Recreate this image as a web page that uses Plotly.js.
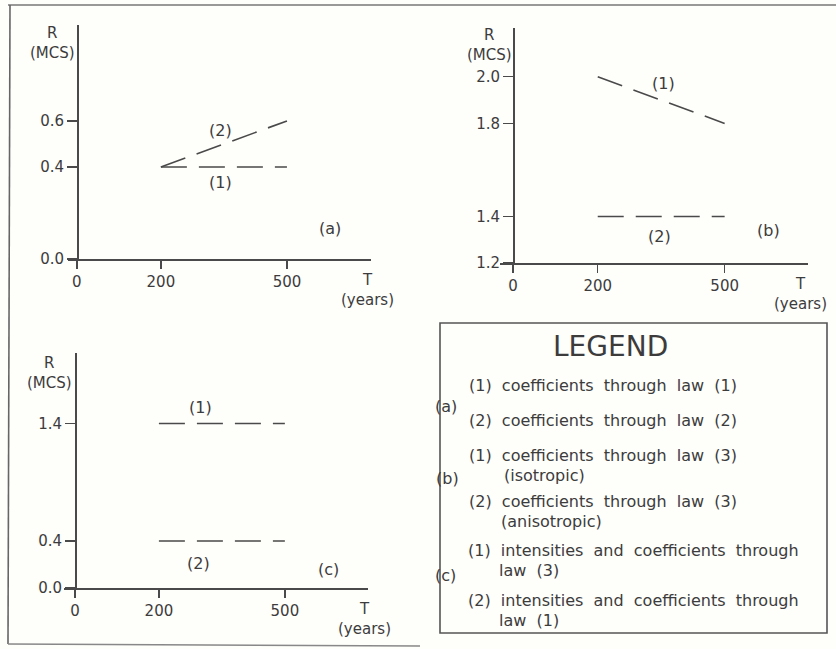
<!DOCTYPE html>
<html>
<head>
<meta charset="utf-8">
<script src="https://cdn.plot.ly/plotly-3.0.1.min.js"></script>
<style>html,body{margin:0;padding:0;background:#fefefb;}#chart{width:836px;height:649px;}</style>
</head>
<body>
<div id="chart"></div>
<script>
// ---- data ----
const T = [200, 500];
const aLaw1 = [0.4, 0.4];
const aLaw2 = [0.4, 0.6];
const bIsotropic = [2.0, 1.8];
const bAnisotropic = [1.4, 1.4];
const cLaw3 = [1.4, 1.4];
const cLaw1 = [0.4, 0.4];
const xTicks = [0, 200, 500];
const aYTicks = [0.0, 0.4, 0.6];
const bYTicks = [1.2, 1.4, 1.8, 2.0];
const cYTicks = [0.0, 0.4, 1.4];
const legendLines = [
  "(1)\u00a0 coefficients\u00a0 through\u00a0 law\u00a0 (1)",
  "(2)\u00a0 coefficients\u00a0 through\u00a0 law\u00a0 (2)",
  "(1)\u00a0 coefficients\u00a0 through\u00a0 law\u00a0 (3)",
  "(isotropic)",
  "(2)\u00a0 coefficients\u00a0 through\u00a0 law\u00a0 (3)",
  "(anisotropic)",
  "(1)\u00a0 intensities\u00a0 and\u00a0 coefficients\u00a0 through",
  "law\u00a0 (3)",
  "(2)\u00a0 intensities\u00a0 and\u00a0 coefficients\u00a0 through",
  "law\u00a0 (1)"
];
const panelTags = ["(a)", "(b)", "(c)"];

// ---- helpers ----
const W = 836, H = 649;
const px = x => x / W;
const py = y => 1 - y / H;
const INK = '#4a4a4a';
const TXT = '#3c3c3c';
const FONT = 'DejaVu Sans, sans-serif';

const lineStyle = {color: INK, width: 1.6, dash: '26px,12px'};
function tr(x, y, xa, ya) {
  return {x: x, y: y, xaxis: xa, yaxis: ya, mode: 'lines', line: lineStyle, hoverinfo: 'skip', showlegend: false};
}
const traces = [
  tr(T, aLaw1, 'x', 'y'),
  tr(T, aLaw2, 'x', 'y'),
  tr(T, bIsotropic, 'x2', 'y2'),
  tr(T, bAnisotropic, 'x2', 'y2'),
  tr(T, cLaw3, 'x3', 'y3'),
  tr(T, cLaw1, 'x3', 'y3')
];

function xax(d0, d1, r0, r1, anchor) {
  return {domain: [px(d0), px(d1)], range: [r0, r1], anchor: anchor,
    showline: true, linecolor: INK, linewidth: 1.6, ticks: 'outside', ticklen: 8,
    tickcolor: INK, tickwidth: 1.4, tickvals: xTicks, showgrid: false, zeroline: false,
    tickfont: {family: FONT, size: 15, color: TXT}, fixedrange: true};
}
function yax(top, bottom, r0, r1, pos, vals) {
  return {domain: [py(bottom), py(top)], range: [r0, r1], anchor: 'free', position: px(pos),
    showline: true, linecolor: INK, linewidth: 1.6, ticks: 'outside', ticklen: 10,
    tickcolor: INK, tickwidth: 1.2, tickvals: vals, tickformat: '.1f', showgrid: false, zeroline: false,
    tickfont: {family: FONT, size: 15, color: TXT}, fixedrange: true};
}

const annotations = [];
function ann(x, y, text, opts) {
  annotations.push(Object.assign({xref: 'paper', yref: 'paper', x: px(x), y: py(y), text: text,
    showarrow: false, xanchor: 'center', yanchor: 'middle',
    font: {family: FONT, size: 16, color: TXT}}, opts || {}));
}
const axFont = {family: FONT, size: 15, color: TXT};
// axis titles
ann(52, 43, 'R<br>(MCS)', {font: axFont});
ann(367, 290, 'T<br>(years)', {font: axFont});
ann(489, 45, 'R<br>(MCS)', {font: axFont});
ann(800, 294, 'T<br>(years)', {font: axFont});
ann(49, 373, 'R<br>(MCS)', {font: axFont});
ann(364, 619, 'T<br>(years)', {font: axFont});
// curve labels
ann(220, 130, '(2)'); ann(220, 183, '(1)');
ann(663, 83, '(1)'); ann(659, 237, '(2)');
ann(200, 407, '(1)'); ann(198, 563, '(2)');
// panel tags
ann(330, 228, panelTags[0]); ann(768, 231, panelTags[1]); ann(328, 569, panelTags[2]);
// legend
ann(610, 346, 'LEGEND', {font: {family: FONT, size: 28, color: TXT}});
const lx = [467, 467, 467, 502, 467, 499, 466, 497, 466, 497];
const ly = [385, 421, 455, 475, 501, 521, 550, 570, 600, 620];
legendLines.forEach((t, i) => ann(lx[i], ly[i], t, {xanchor: 'left', font: {family: FONT, size: 16, color: TXT}}));
ann(446, 406, panelTags[0]); ann(447, 478, panelTags[1]); ann(446, 575, panelTags[2]);

const shapes = [
  {type: 'line', xref: 'paper', yref: 'paper', x0: px(8), y0: py(5), x1: px(836), y1: py(5), line: {color: '#777', width: 1.6}},
  {type: 'line', xref: 'paper', yref: 'paper', x0: px(10), y0: py(5), x1: px(8), y1: py(644), line: {color: '#666', width: 1.6}},
  {type: 'line', xref: 'paper', yref: 'paper', x0: px(8), y0: py(644), x1: px(420), y1: py(646), line: {color: '#888', width: 1.4}},
  {type: 'rect', xref: 'paper', yref: 'paper', x0: px(440), y0: py(633), x1: px(827), y1: py(323), line: {color: '#555', width: 1.6}}
];

const layout = {
  width: W, height: H, margin: {l: 0, r: 0, t: 0, b: 0},
  paper_bgcolor: '#fefefb', plot_bgcolor: 'rgba(0,0,0,0)', showlegend: false,
  xaxis: xax(68, 371, -21, 700, 'y'),
  yaxis: yax(25, 259, 0, 1.017, 77, aYTicks),
  xaxis2: xax(500, 808, -31, 697, 'y2'),
  yaxis2: yax(28, 263, 1.2, 2.21, 513, bYTicks),
  xaxis3: xax(64, 368, -26, 698, 'y3'),
  yaxis3: yax(353, 588, 0, 2.0, 75, cYTicks),
  annotations: annotations, shapes: shapes
};
Plotly.newPlot('chart', traces, layout, {displayModeBar: false, staticPlot: true});
</script>
</body>
</html>
